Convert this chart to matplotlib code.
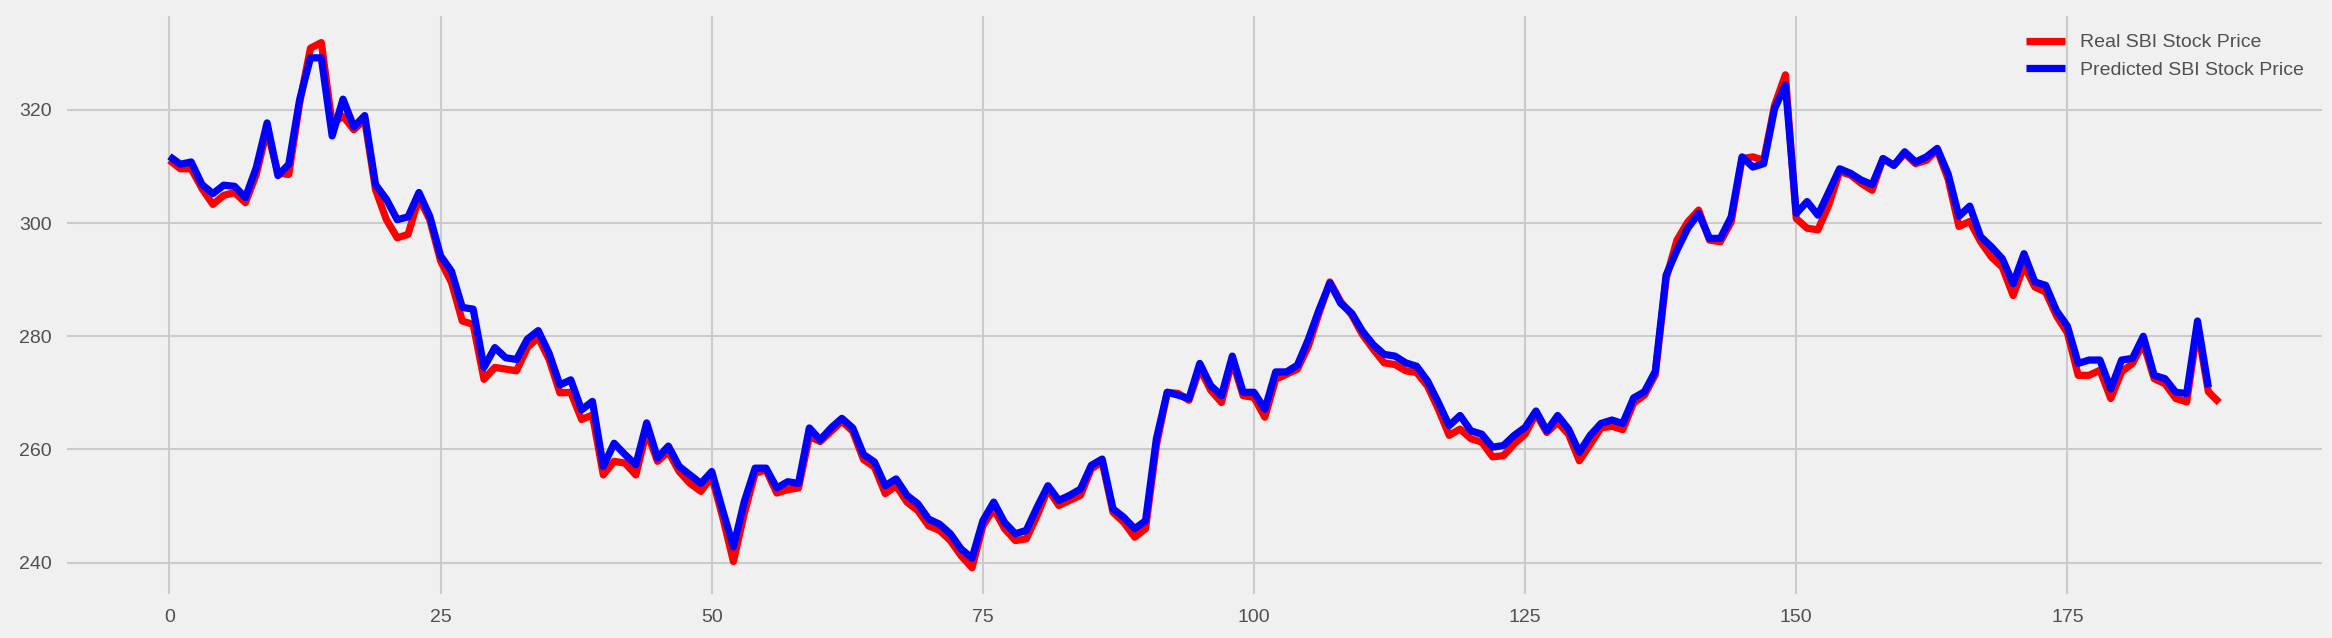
import matplotlib
matplotlib.use("Agg")
import matplotlib.pyplot as plt
from matplotlib.ticker import MultipleLocator

real_price = [
    311.1, 309.6, 309.6, 306.1, 303.3, 304.9, 305.4, 303.6, 308.6, 316.5,
    308.8, 308.6, 321.2, 330.9, 331.9, 317.5, 318.9, 316.5, 318.3, 305.9,
    300.6, 297.4, 298.0, 304.5, 300.6, 293.3, 289.5, 282.7, 282.1, 272.4,
    274.5, 274.2, 273.9, 278.0, 279.8, 275.9, 270.0, 270.1, 265.3, 266.1,
    255.5, 257.9, 257.6, 255.5, 263.2, 257.9, 259.6, 256.1, 254.0, 252.6,
    255.2, 248.1, 240.2, 248.7, 255.8, 256.4, 252.3, 252.9, 253.2, 262.3,
    261.4, 263.2, 265.0, 263.2, 258.2, 256.9, 252.2, 253.6, 250.7, 249.2,
    246.5, 245.7, 243.9, 241.2, 239.1, 246.5, 249.5, 246.0, 243.9, 244.2,
    248.3, 253.0, 250.1, 251.0, 251.9, 256.6, 257.8, 248.9, 247.1, 244.5,
    246.0, 260.7, 270.1, 269.9, 268.7, 274.3, 270.5, 268.3, 275.7, 269.5,
    269.2, 265.7, 272.4, 273.3, 274.2, 278.2, 284.1, 289.6, 286.1, 283.8,
    280.3, 277.7, 275.3, 275.0, 273.9, 273.6, 271.2, 267.1, 262.5, 263.6,
    261.9, 261.3, 258.7, 258.9, 261.0, 262.7, 266.3, 263.0, 264.8, 262.7,
    258.0, 260.9, 263.8, 264.1, 263.5, 268.2, 269.6, 273.2, 290.2, 297.0,
    300.2, 302.3, 297.0, 296.7, 300.2, 311.4, 311.7, 311.1, 320.8, 326.2,
    300.8, 299.1, 298.8, 303.2, 309.1, 308.5, 307.0, 305.8, 311.4, 310.2,
    312.3, 310.5, 311.1, 312.9, 307.8, 299.4, 300.3, 296.7, 294.0, 292.2,
    287.2, 292.5, 288.7, 287.8, 283.6, 280.6, 273.1, 273.1, 274.0, 269.0,
    273.7, 275.2, 278.8, 272.5, 271.6, 269.0, 268.4, 281.5, 270.2, 268.3,
]

predicted_price = [
    311.8, 310.4, 310.8, 306.8, 305.2, 306.7, 306.5, 304.5, 309.8, 317.7,
    308.4, 310.4, 321.8, 329.2, 329.2, 315.4, 321.9, 317.0, 319.0, 306.8,
    304.2, 300.6, 301.1, 305.4, 301.2, 294.2, 291.5, 285.1, 284.8, 274.5,
    278.0, 276.2, 275.9, 279.5, 281.0, 277.0, 271.4, 272.3, 267.0, 268.5,
    257.0, 261.1, 259.1, 257.3, 264.7, 258.5, 260.6, 257.0, 255.5, 254.0,
    256.1, 249.3, 242.8, 250.8, 256.7, 256.7, 253.2, 254.3, 254.0, 263.8,
    261.7, 263.8, 265.5, 263.8, 259.1, 257.8, 253.6, 254.8, 251.9, 250.4,
    247.7, 246.8, 245.1, 242.4, 240.8, 247.4, 250.7, 247.1, 245.1, 245.7,
    249.8, 253.6, 251.0, 251.9, 253.0, 257.2, 258.3, 249.5, 248.0, 246.0,
    247.4, 261.9, 270.1, 269.6, 269.0, 275.2, 271.3, 269.5, 276.5, 270.1,
    270.1, 267.1, 273.7, 273.7, 274.9, 279.4, 284.7, 289.4, 285.8, 284.1,
    280.9, 278.5, 276.8, 276.5, 275.3, 274.7, 272.1, 268.3, 264.2, 266.0,
    263.3, 262.7, 260.4, 260.7, 262.5, 263.9, 266.8, 263.3, 266.0, 263.6,
    259.5, 262.5, 264.6, 265.2, 264.6, 269.1, 270.2, 273.8, 290.8, 295.2,
    299.1, 301.7, 297.3, 297.3, 301.1, 311.7, 309.9, 310.5, 320.2, 324.4,
    301.7, 303.8, 301.4, 305.5, 309.6, 308.8, 307.6, 306.8, 311.4, 310.2,
    312.6, 310.8, 311.7, 313.2, 308.7, 301.2, 303.0, 297.6, 295.8, 293.7,
    289.3, 294.6, 289.6, 289.0, 284.5, 281.8, 275.2, 275.8, 275.8, 270.7,
    275.8, 276.1, 280.0, 273.1, 272.5, 270.1, 269.9, 282.7, 271.0,
]

labels = ["Real SBI Stock Price", "Predicted SBI Stock Price"]

plt.style.use("fivethirtyeight")
plt.rcParams["font.family"] = ["Liberation Sans", "DejaVu Sans"]

W, H = 2332, 638
fig = plt.figure(figsize=(W / 100, H / 100), dpi=100, facecolor="#f0f0f0")
ax = fig.add_axes([67 / W, 1 - 594 / H, (2321.7 - 67) / W, (594 - 16.3) / H])
ax.set_facecolor("#f0f0f0")

ax.plot(range(len(real_price)), real_price, color="red", lw=5.2, label=labels[0])
ax.plot(range(len(predicted_price)), predicted_price, color="blue", lw=5.2, label=labels[1])

ax.xaxis.set_major_locator(MultipleLocator(25))
ax.yaxis.set_major_locator(MultipleLocator(20))
ax.grid(True, color="#cbcbcb", lw=1.5)
for s in ax.spines.values():
    s.set_visible(False)
ax.tick_params(axis="both", length=0, pad=11, labelsize=14, labelcolor="#505050")

leg = ax.legend(loc="upper right", frameon=False, fontsize=14)
for t in leg.get_texts():
    t.set_color("#505050")

fig.savefig("out.png", dpi=100, facecolor="#f0f0f0")
